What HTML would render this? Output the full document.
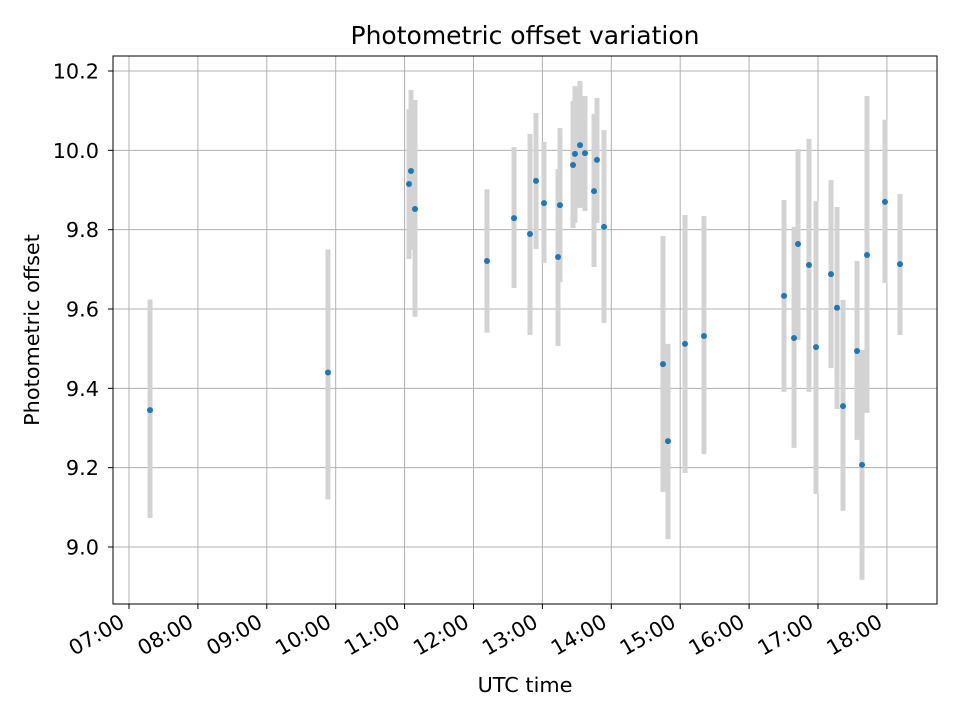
<!DOCTYPE html>
<html><head><meta charset="utf-8"><style>body{margin:0;background:#fff}svg{font-family:"DejaVu Sans","Liberation Sans",sans-serif}</style></head>
<body>
<svg id="chart" width="960" height="720" viewBox="0 0 960 720" xmlns="http://www.w3.org/2000/svg">
<rect width="960" height="720" fill="#fff"/>
<g id="grid"></g><g id="bars"></g><g id="pts"></g><g id="axes"></g>
<text x="525" y="44" style="font-size:25px" text-anchor="middle">Photometric offset variation</text>
<text x="525" y="692" style="font-size:20.8px" text-anchor="middle">UTC time</text>
<text x="39" y="330" style="font-size:20.8px" text-anchor="middle" transform="rotate(-90 39 330)">Photometric offset</text>
</svg>
<script>
const times=[7.305,9.888,11.064,11.093,11.151,12.196,12.588,12.82,12.907,13.023,13.227,13.255,13.444,13.473,13.546,13.618,13.749,13.792,13.894,14.75,14.823,15.07,15.345,16.507,16.652,16.71,16.869,16.971,17.189,17.276,17.363,17.566,17.639,17.711,17.972,18.19];
const offsets=[9.345,9.44,9.915,9.948,9.852,9.721,9.829,9.789,9.923,9.867,9.731,9.862,9.963,9.991,10.013,9.993,9.897,9.976,9.807,9.461,9.267,9.512,9.532,9.633,9.527,9.764,9.711,9.504,9.688,9.603,9.355,9.494,9.207,9.736,9.87,9.713];
const upper=[9.624,9.75,10.104,10.152,10.127,9.902,10.008,10.041,10.094,10.021,9.953,10.056,10.124,10.162,10.175,10.137,10.092,10.132,10.051,9.784,9.512,9.837,9.834,9.875,9.807,10.003,10.029,9.872,9.925,9.857,9.623,9.721,9.497,10.137,10.077,9.89];
const lower=[9.073,9.12,9.726,9.749,9.58,9.54,9.653,9.534,9.751,9.716,9.507,9.668,9.804,9.817,9.855,9.847,9.706,9.817,9.565,9.139,9.02,9.187,9.234,9.391,9.25,9.522,9.391,9.134,9.451,9.348,9.091,9.27,8.917,9.338,9.666,9.534];
const yTicks=[9.0,9.2,9.4,9.6,9.8,10.0,10.2];
const xTicks=[7,8,9,10,11,12,13,14,15,16,17,18];
const xTickLabels=["07:00","08:00","09:00","10:00","11:00","12:00","13:00","14:00","15:00","16:00","17:00","18:00"];
const L=113,R=937,T=56,B=604;
const x=h=>129+(h-7)*68.9;
const y=v=>547-(v-9.0)*396.67;
const NS="http://www.w3.org/2000/svg";
function mk(tag,attrs,parent,text){const e=document.createElementNS(NS,tag);for(const k in attrs)e.setAttribute(k,attrs[k]);if(text!==undefined)e.textContent=text;document.getElementById(parent).appendChild(e);return e;}
xTicks.forEach((t,i)=>{
  const g=mk('line',{x1:x(t),x2:x(t),y1:T,y2:B,stroke:'#b0b0b0','stroke-width':1},'grid');
  
  
  const tk=mk('line',{x1:x(t),x2:x(t),y1:B,y2:B+5,stroke:'#000','stroke-width':1},'axes');
  
  
  const px=x(t)-3,py=B+22;
  const tx=mk('text',{x:px,y:py,style:'font-size:20.8px','text-anchor':'end',transform:`rotate(-30 ${px} ${py})`},'axes',xTickLabels[i]);
  
  
});
yTicks.forEach(t=>{
  const g=mk('line',{x1:L,x2:R,y1:y(t),y2:y(t),stroke:'#b0b0b0','stroke-width':1},'grid');
  
  
  const tk=mk('line',{x1:L-5,x2:L,y1:y(t),y2:y(t),stroke:'#000','stroke-width':1},'axes');
  
  
  const tx=mk('text',{x:L-14,y:y(t)+7.5,style:'font-size:20.8px','text-anchor':'end'},'axes',t.toFixed(1));
  
  
});
times.forEach((h,i)=>{
  const b=mk('line',{x1:x(h),x2:x(h),y1:y(upper[i]),y2:y(lower[i]),stroke:'#d3d3d3','stroke-width':5},'bars');
  
  
});
times.forEach((h,i)=>{
  const p=mk('circle',{cx:x(h),cy:y(offsets[i]),r:3,fill:'#1f77b4'},'pts');
  
  
});
const fr=mk('rect',{x:L,y:T,width:R-L,height:B-T,fill:'none',stroke:'#000','stroke-width':1},'axes');


</script>
</body></html>
